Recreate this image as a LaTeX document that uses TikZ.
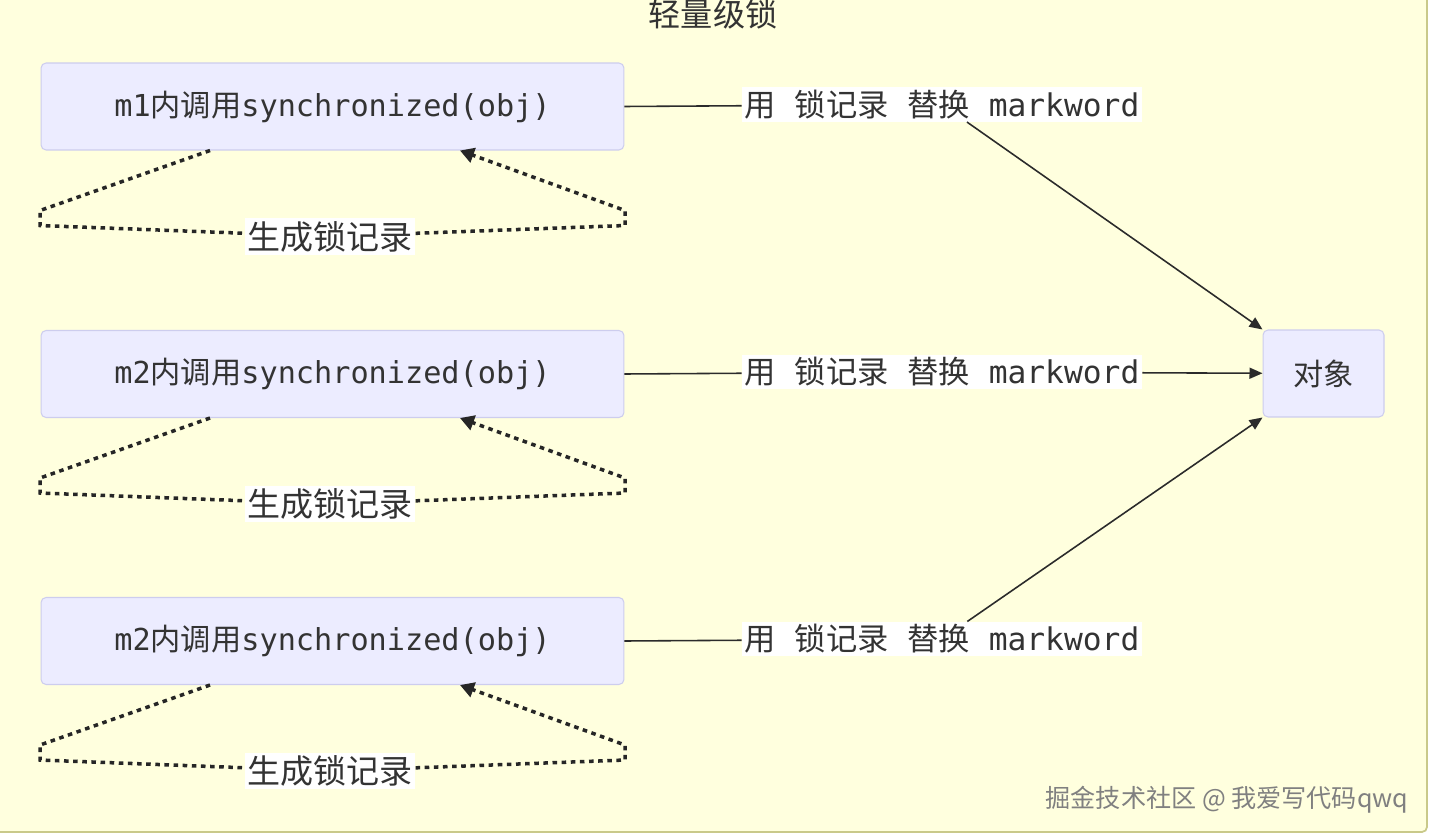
\documentclass[tikz,border=0pt]{standalone}
\usepackage{fontspec}
\setmonofont{DejaVu Sans Mono}
\setsansfont{Noto Sans}
\newfontfamily\cjk{Noto Sans CJK SC}
\usetikzlibrary{arrows.meta}

\definecolor{clusterbg}{HTML}{FFFFDE}
\definecolor{clusterline}{HTML}{C9C98A}
\definecolor{nodebg}{HTML}{ECECFF}
\definecolor{nodeline}{HTML}{CDCDEE}
\definecolor{txt}{HTML}{333333}
\definecolor{linecol}{HTML}{2B2B2B}

\tikzset{
  callbox/.style={draw=nodeline, fill=nodebg, rounded corners=0.1cm, line width=0.6pt,
    minimum width=11.66cm, minimum height=1.74cm, inner sep=0pt, text=txt,
    font=\ttfamily\fontsize{17.2}{20}\selectfont},
  objbox/.style={callbox, minimum width=2.42cm},
  edgelabel/.style={fill=white, inner sep=1.5pt, text=txt,
    font=\ttfamily\fontsize{17.8}{20}\selectfont},
  looplabel/.style={fill=white, inner sep=1.5pt, text=txt,
    font=\cjk\fontsize{18.8}{22}\selectfont},
  link/.style={draw=linecol, line width=0.9pt},
  recordloop/.style={draw=black!85, line width=2pt, dash pattern=on 2.6pt off 2.6pt},
  titletext/.style={text=txt, font=\cjk\fontsize{18.3}{20}\selectfont},
  watermark/.style={text=black!50, font=\cjk\fontsize{14.3}{18}\selectfont}
}

\begin{document}
\begin{tikzpicture}[x=0.02cm, y=-0.02cm, >={Triangle[length=0.26cm, width=0.22cm]}]
  \useasboundingbox (0,0) rectangle (1433,837);

  % Hintergrund des Clusters
  \draw[fill=clusterbg, draw=clusterline, line width=1pt, rounded corners=0.1cm]
    (-20,-20) rectangle (1427,832);
  \node[titletext] (title) at (713,14) {轻量级锁};

  % Aufrufe
  \node[callbox] (b1) at (332.5,106.5) {m1{\cjk 内调用}synchronized(obj)};
  \node[callbox] (b2) at (332.5,374) {m2{\cjk 内调用}synchronized(obj)};
  \node[callbox] (b3) at (332.5,641) {m2{\cjk 内调用}synchronized(obj)};
  \node[objbox] (obj) at (1323.5,373.5) {\cjk 对象};

  % Kantenbeschriftungen
  \node[edgelabel] (r1) at (942,104.5) {{\cjk 用} {\cjk 锁记录} {\cjk 替换} markword};
  \node[edgelabel] (r2) at (942,372) {{\cjk 用} {\cjk 锁记录} {\cjk 替换} markword};
  \node[edgelabel] (r3) at (942,639) {{\cjk 用} {\cjk 锁记录} {\cjk 替换} markword};

  \draw[link] (b1.east) -- (r1);
  \draw[link] (b2.east) -- (r2);
  \draw[link] (b3.east) -- (r3);
  \draw[link, ->] (r1) -- (obj.north west);
  \draw[link, ->] (r2) -- (obj);
  \draw[link, ->] (r3) -- (obj.south west);

  % Selbstschleifen
  \foreach \n in {1,2,3} {
    \node[looplabel] (g\n) at ([shift={(-2.5,86)}]b\n.south) {生成锁记录};
    \coordinate (s\n) at ([xshift=-2.45cm]b\n.south);
    \coordinate (e\n) at ([xshift=2.55cm]b\n.south);
    \draw[recordloop, -{Triangle[length=0.28cm, width=0.3cm]}] (s\n) -- ++(-170,60) -- ++(0,15) -- (g\n)
      -- ([shift={(292.5,75)}]b\n.south) -- ++(0,-15) -- (e\n);
  }

  \node[watermark] (wm) at (1227,800) {掘金技术社区 @ 我爱写代码qwq};
\end{tikzpicture}
\end{document}
